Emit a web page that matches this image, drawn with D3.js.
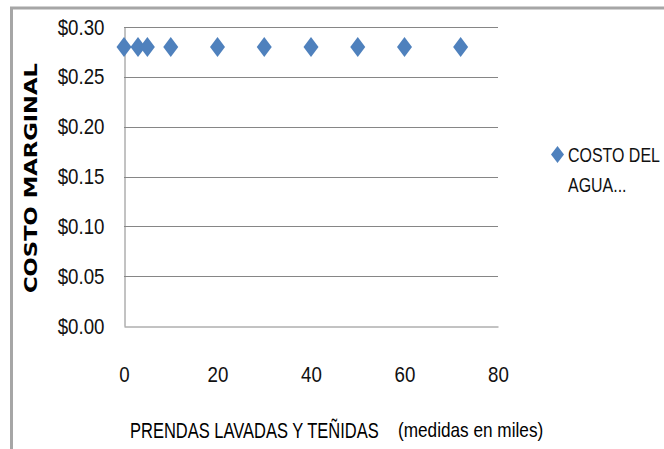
<!DOCTYPE html>
<html>
<head>
<meta charset="utf-8">
<script src="https://cdn.jsdelivr.net/npm/d3@7"></script>
<style>
  html, body { margin: 0; padding: 0; background: #fff; }
  svg { display: block; }
</style>
</head>
<body>
<svg id="chart" width="664" height="449"></svg>
<script>
// Garment volume (thousands) and marginal water cost per unit
const prendas = [0, 3, 5, 10, 20, 30, 40, 50, 60, 72];
const costoMarginal = [0.28, 0.28, 0.28, 0.28, 0.28, 0.28, 0.28, 0.28, 0.28, 0.28];
const xTicks = [0, 20, 40, 60, 80];
const yTicks = [0, 0.05, 0.10, 0.15, 0.20, 0.25, 0.30];
const serieNombre = ["COSTO DEL", "AGUA..."];
const tituloY = "COSTO MARGINAL";
const tituloX = "PRENDAS LAVADAS Y TEÑIDAS";
const tituloXNota = "(medidas en miles)";

const W = 664, H = 449;
const plot = { left: 124, right: 498, top: 27, bottom: 326 };
const sans = "'Liberation Sans', Arial, sans-serif";
const blue = "#4F81BD";
const gridColor = "#868686";
const ink = "#111";

// squeeze text horizontally (scale about its own origin) for a narrow look
function condense(sel, k) {
  sel.each(function () {
    const x0 = +(this.getAttribute("x") || 0);
    this.setAttribute("x", x0 / k);
    this.setAttribute("transform", `scale(${k},1)`);
  });
}

const svg = d3.select("#chart");

// outer frame (top and left edges)
svg.append("path")
  .attr("d", `M11.5,${H} L11.5,8 L${W},8`)
  .attr("fill", "none")
  .attr("stroke", "#a6a6a6")
  .attr("stroke-width", 3);

const x = d3.scaleLinear().domain([0, 80]).range([plot.left, plot.right]);
const y = d3.scaleLinear().domain([0, 0.30]).range([plot.bottom, plot.top]);

// horizontal gridlines
svg.append("g")
  .selectAll("line")
  .data(yTicks.filter(t => t > 0))
  .join("line")
  .attr("x1", plot.left).attr("x2", plot.right)
  .attr("y1", d => Math.round(y(d)) + 0.5).attr("y2", d => Math.round(y(d)) + 0.5)
  .attr("stroke", gridColor).attr("stroke-width", 1);

// y axis
const yAxis = svg.append("g")
  .attr("transform", `translate(${plot.left + 0.5},0)`)
  .call(d3.axisLeft(y).tickValues(yTicks).tickSize(0).tickPadding(20)
    .tickFormat(d => "$" + d.toFixed(2)));
yAxis.select(".domain").attr("stroke", gridColor);
yAxis.selectAll("text")
  .attr("font-family", sans).attr("font-size", 22).attr("fill", ink)
  .call(condense, 0.85);

// x axis
const xAxis = svg.append("g")
  .attr("transform", `translate(0,${plot.bottom + 0.5})`)
  .call(d3.axisBottom(x).tickValues(xTicks).tickSize(0).tickPadding(40)
    .tickFormat(d3.format("d")));
xAxis.select(".domain").attr("stroke", gridColor);
xAxis.selectAll("text")
  .attr("font-family", sans).attr("font-size", 22).attr("fill", ink)
  .call(condense, 0.85);

// diamond marker path with separate half-width and half-height
const diamond = (hw, hh) => `M0,${-hh}L${hw},0L0,${hh}L${-hw},0Z`;

// data points
svg.append("g")
  .selectAll("path")
  .data(prendas.map((p, i) => ({ p, c: costoMarginal[i] })))
  .join("path")
  .attr("d", diamond(7.5, 10))
  .attr("transform", d => `translate(${x(d.p)},${y(d.c)})`)
  .attr("fill", blue);

// legend
const legend = svg.append("g");
legend.append("path")
  .attr("d", diamond(6.5, 8.5))
  .attr("transform", "translate(557.5,154.5)")
  .attr("fill", blue);
legend.selectAll("text")
  .data(serieNombre)
  .join("text")
  .attr("x", 568)
  .attr("y", (d, i) => 154.5 + i * 30)
  .attr("dy", "0.35em")
  .attr("font-family", sans).attr("font-size", 21).attr("fill", ink)
  .text(d => d)
  .call(condense, 0.76);

// y axis title
svg.append("g")
  .attr("transform", "translate(31,178) rotate(-90)")
  .append("text")
  .attr("text-anchor", "middle")
  .attr("dy", "0.36em")
  .attr("font-family", "'DejaVu Sans', sans-serif")
  .attr("font-weight", "bold")
  .attr("font-size", 17)
  .attr("textLength", 230)
  .attr("lengthAdjust", "spacingAndGlyphs")
  .attr("fill", "#000")
  .text(tituloY);

// x axis title, main part and unit note
svg.append("text")
  .attr("x", 130).attr("y", 430).attr("dy", "0.35em")
  .attr("font-family", sans).attr("font-size", 22).attr("fill", "#000")
  .text(tituloX)
  .call(condense, 0.75);
svg.append("text")
  .attr("x", 398).attr("y", 430).attr("dy", "0.35em")
  .attr("font-family", sans).attr("font-size", 20).attr("fill", "#000")
  .text(tituloXNota)
  .call(condense, 0.86);
</script>
</body>
</html>
